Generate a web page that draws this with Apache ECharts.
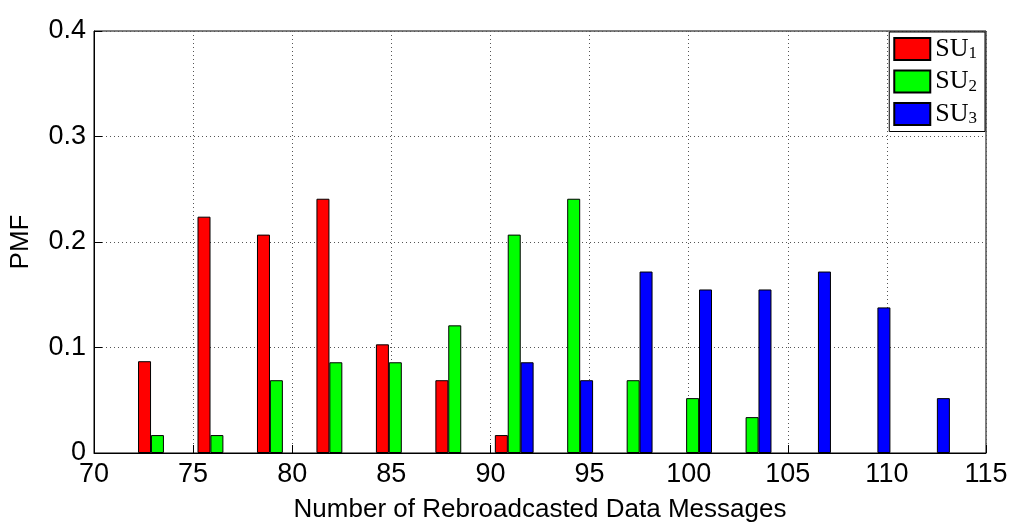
<!DOCTYPE html>
<html>
<head>
<meta charset="utf-8"/>
<script src="https://cdn.jsdelivr.net/npm/echarts@6/dist/echarts.min.js"></script>
<style>html,body{margin:0;background:#fff}#c{width:1024px;height:531px}</style>
</head>
<body>
<div id="c"></div>
<script>
// group centres along the x axis
var centers = [73.2, 76.2, 79.2, 82.2, 85.2, 88.2, 91.2, 94.2, 97.2, 100.2, 103.2, 106.2, 109.2, 112.2];
var su1 = [0.087, 0.224, 0.207, 0.241, 0.103, 0.069, 0.017, 0, 0, 0, 0, 0, 0, 0];
var su2 = [0.017, 0.017, 0.069, 0.086, 0.086, 0.121, 0.207, 0.241, 0.069, 0.052, 0.034, 0, 0, 0];
var su3 = [0, 0, 0, 0, 0, 0, 0.086, 0.069, 0.172, 0.155, 0.155, 0.172, 0.138, 0.052];
var names = ['SU{s|1}', 'SU{s|2}', 'SU{s|3}'];
var colors = ['#ff0000', '#00ff00', '#0000ff'];
var off = 0.65;

function pts(vals, shift){
	var out = [];
	for (var i = 0; i < vals.length; i++) {
		if (vals[i] > 0) out.push([centers[i] + shift, vals[i]]);
	}
	return out;
}
function ser(name, vals, shift, col){
	return {name:name, type:'bar', data:pts(vals, shift), barWidth:13, barGap:'-100%',
		itemStyle:{color:col, borderColor:'#000', borderWidth:1}};
}

var chart = echarts.init(document.getElementById('c'));
var dotted = {show:true, lineStyle:{type:[1,3], color:'#555'}};
chart.setOption({
	animation:false,
	grid:{left:88, right:38, top:31, bottom:78, show:true, borderColor:'#000', borderWidth:1},
	legend:{
		right:39, top:32, orient:'vertical', itemWidth:36, itemHeight:22, itemGap:6,
		backgroundColor:'#fff', borderColor:'#000', borderWidth:1, padding:[4,8,4,4],
		icon:'rect',
		textStyle:{fontFamily:'Liberation Serif', fontSize:26, color:'#000',
			rich:{s:{fontFamily:'Liberation Serif', fontSize:17, verticalAlign:'bottom', padding:[10,0,0,0]}}}
	},
	xAxis:{type:'value', min:70, max:115, interval:5,
		name:'Number of Rebroadcasted Data Messages', nameLocation:'middle', nameGap:44,
		nameTextStyle:{fontFamily:'Liberation Sans', fontSize:26, color:'#000'},
		axisLine:{lineStyle:{color:'#000'}}, axisTick:{inside:true, length:8, lineStyle:{color:'#000'}},
		axisLabel:{fontFamily:'Liberation Sans', fontSize:27, color:'#000', margin:8},
		splitLine:dotted},
	yAxis:{type:'value', min:0, max:0.4, interval:0.1,
		name:'PMF', nameLocation:'middle', nameGap:60,
		nameTextStyle:{fontFamily:'Liberation Sans', fontSize:26, color:'#000'},
		axisLine:{show:true, lineStyle:{color:'#000'}}, axisTick:{show:true, inside:true, length:8, lineStyle:{color:'#000'}},
		axisLabel:{fontFamily:'Liberation Sans', fontSize:27, color:'#000', margin:8,
			formatter:function(v){return v === 0 ? '0' : v.toFixed(1);}},
		splitLine:dotted},
	series:[
		ser(names[0], su1, -off, colors[0]),
		ser(names[1], su2, 0, colors[1]),
		ser(names[2], su3, off, colors[2])
	]
});
</script>
</body>
</html>
